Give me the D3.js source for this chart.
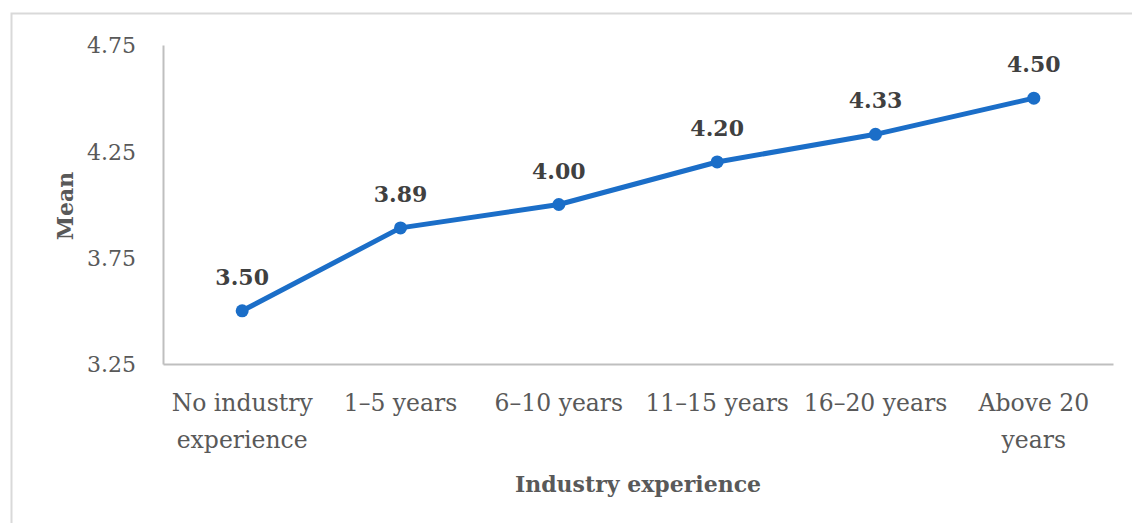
<!DOCTYPE html>
<html>
<head>
<meta charset="utf-8">
<script src="https://cdn.jsdelivr.net/npm/d3@7"></script>
<style>
  body { margin: 0; background: #fff; }
  text { font-family: "DejaVu Serif", serif; }
</style>
</head>
<body>
<script>
const width = 1132;
const height = 523;

const categories = [["No industry", "experience"], ["1\u20135 years"], ["6\u201310 years"], ["11\u201315 years"], ["16\u201320 years"], ["Above 20", "years"]];
const means = [3.50, 3.89, 4.00, 4.20, 4.33, 4.50];
const yTicks = [3.25, 3.75, 4.25, 4.75];

const margin = {top: 45, right: 19, bottom: 159, left: 163};

const svg = d3.select("body")
    .append("svg")
    .attr("width", width)
    .attr("height", height);

// outer frame
svg.append("rect")
    .attr("x", 11.5).attr("y", 13.5)
    .attr("width", width).attr("height", height)
    .attr("fill", "none")
    .attr("stroke", "#d9d9d9")
    .attr("stroke-width", 2);

const x = d3.scaleBand()
    .domain(d3.range(categories.length))
    .range([margin.left, width - margin.right]);

const y = d3.scaleLinear()
    .domain([3.25, 4.75])
    .range([height - margin.bottom, margin.top]);

const yAxis = svg.append("g")
    .attr("transform", `translate(${margin.left},0)`)
    .call(d3.axisLeft(y).tickValues(yTicks).tickFormat(d3.format(".2f")).tickSize(0).tickPadding(27));

const xAxis = svg.append("g")
    .attr("transform", `translate(0,${height - margin.bottom})`)
    .call(d3.axisBottom(x).tickSize(0).tickFormat(""));

[yAxis, xAxis].forEach(g => {
    g.select(".domain").attr("stroke", "#bfbfbf").attr("stroke-width", 2);
    g.selectAll("text").attr("fill", "#595959").attr("font-size", 22).attr("font-family", "DejaVu Serif");
});
yAxis.selectAll("text").attr("dy", "0.35em");

// category labels, wrapped
xAxis.selectAll(".tick").each(function (d) {
    const t = d3.select(this).append("text")
        .attr("fill", "#595959")
        .attr("font-size", 23.5)
        .attr("text-anchor", "middle");
    categories[d].forEach((line, i) => {
        t.append("tspan").attr("x", 0).attr("y", 47 + i * 37).text(line);
    });
});

const line = d3.line()
    .x((d, i) => x(i) + x.bandwidth() / 2)
    .y(d => y(d));

svg.append("path")
    .datum(means)
    .attr("fill", "none")
    .attr("stroke", "#1b6ec8")
    .attr("stroke-width", 5)
    .attr("stroke-linejoin", "round")
    .attr("d", line);

svg.append("g")
    .selectAll("circle")
    .data(means)
    .join("circle")
    .attr("cx", (d, i) => x(i) + x.bandwidth() / 2)
    .attr("cy", d => y(d))
    .attr("r", 6.5)
    .attr("fill", "#1b6ec8");

svg.append("g")
    .selectAll("text")
    .data(means)
    .join("text")
    .attr("x", (d, i) => x(i) + x.bandwidth() / 2)
    .attr("y", d => y(d) - 26)
    .attr("text-anchor", "middle")
    .attr("font-size", 22)
    .attr("font-weight", "bold")
    .attr("fill", "#404040")
    .text(d => d.toFixed(2));

svg.append("text")
    .attr("x", (margin.left + width - margin.right) / 2)
    .attr("y", 492)
    .attr("text-anchor", "middle")
    .attr("font-size", 22)
    .attr("font-weight", "bold")
    .attr("fill", "#595959")
    .text("Industry experience");

svg.append("text")
    .attr("transform", "translate(73,206) rotate(-90)")
    .attr("text-anchor", "middle")
    .attr("font-size", 22)
    .attr("font-weight", "bold")
    .attr("fill", "#595959")
    .text("Mean");
</script>
</body>
</html>
